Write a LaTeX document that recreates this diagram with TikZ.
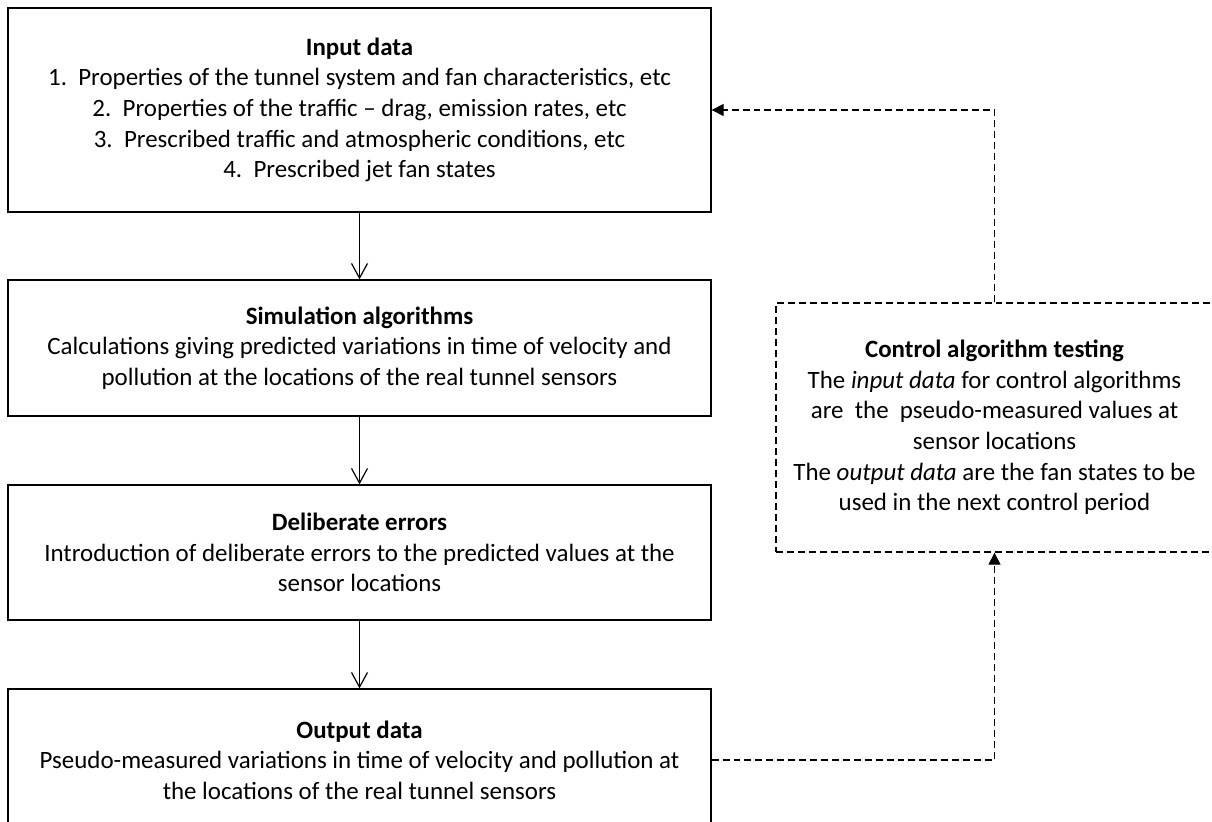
\documentclass[tikz,border=0pt]{standalone}
\usepackage{fontspec}
\setmainfont{Carlito}
\usetikzlibrary{arrows.meta}
\begin{document}
\begin{tikzpicture}[x=0.75pt,y=-0.75pt,
  txt/.style={font=\fontsize{18.7}{23}\selectfont},
  box/.style={draw, line width=1pt, align=center, inner sep=0pt, txt},
  flow/.style={line width=0.9pt, -{Straight Barb[length=11pt,width=12pt,line width=0.9pt]}},
  fb/.style={line width=1pt, dash pattern=on 5.2pt off 3pt, -{Triangle[length=9pt,width=9pt]}}]
\clip (0,0) rectangle (1212,821);
\useasboundingbox (0,0) rectangle (1212,821);
\node[box, minimum width={703*0.75pt}, minimum height={204*0.75pt}] (in) at (359.5,110)
  {\textbf{Input data}\\
   1.\ \ Properties of the tunnel system and fan characteristics, etc\\
   2.\ \ Properties of the traffic -- drag, emission rates, etc\\
   3.\ \ Prescribed traffic and atmospheric conditions, etc\\
   4.\ \ Prescribed jet fan states};
\node[box, minimum width={703*0.75pt}, minimum height={136*0.75pt}] (sim) at (359.5,348)
  {\textbf{Simulation algorithms}\\
   Calculations giving predicted variations in time of velocity and\\
   pollution at the locations of the real tunnel sensors};
\node[box, minimum width={703*0.75pt}, minimum height={135*0.75pt}] (err) at (359.5,552.5)
  {\textbf{Deliberate errors}\\
   Introduction of deliberate errors to the predicted values at the\\
   sensor locations};
\node[box, minimum width={703*0.75pt}, minimum height={142*0.75pt}] (out) at (359.5,760)
  {\textbf{Output data}\\
   Pseudo-measured variations in time of velocity and pollution at\\
   the locations of the real tunnel sensors};
\node[box, dash pattern=on 5.2pt off 3pt, minimum width={437*0.75pt}, minimum height={249*0.75pt}] (ctl) at (994.5,427.5)
  {\textbf{Control algorithm testing}\\
   The \textit{input data} for control algorithms\\
   are\ \ the\ \ pseudo-measured values at\\
   sensor locations\\
   The \textit{output data} are the fan states to be\\
   used in the next control period};
\draw[flow] (in) -- (sim);
\draw[flow] (sim) -- (err);
\draw[flow] (err) -- (out);
\draw[fb] (out.east) -- (out.east -| ctl.south) -- (ctl.south);
\draw[fb] (ctl.north) |- (in.east);
\end{tikzpicture}
\end{document}
